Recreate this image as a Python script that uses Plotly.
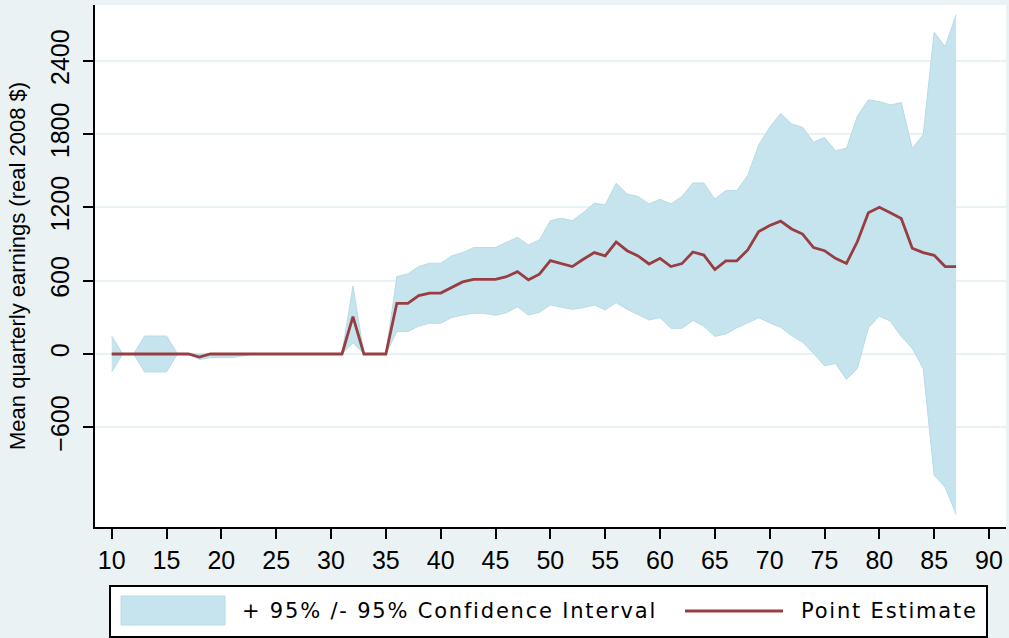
import plotly.graph_objects as go

# ---------------- data ----------------
ages = list(range(10, 88))

point_estimate = [
    0, 0, 0, 0, 0, 0, 0, 0, -25, 0,                         # 10-19
    0, 0, 0, 0, 0, 0, 0, 0, 0, 0,                           # 20-29
    0, 0, 306, 0, 0, 0, 415, 415, 478, 499,                 # 30-39
    499, 547, 590, 611, 611, 611, 633, 674, 607, 653,       # 40-49
    765, 743, 716, 776, 830, 803, 917, 846, 803, 737,       # 50-59
    783, 716, 740, 835, 810, 691, 763, 763, 852, 1002,      # 60-69
    1052, 1088, 1024, 982, 871, 846, 783, 741, 921, 1157,   # 70-79
    1202, 1157, 1110, 866, 830, 808, 716, 716,              # 80-87
]

ci_upper = [
    147, 0, 0, 147, 147, 147, 0, 0, 0, 0,
    0, 0, 0, 0, 0, 0, 0, 0, 0, 0,
    0, 0, 557, 0, 0, 0, 633, 656, 716, 743,
    743, 803, 830, 871, 871, 871, 915, 955, 893, 934,
    1092, 1112, 1092, 1158, 1235, 1221, 1398, 1310, 1289, 1229,
    1267, 1229, 1290, 1400, 1400, 1268, 1338, 1338, 1462, 1712,
    1856, 1970, 1884, 1856, 1734, 1773, 1665, 1684, 1948, 2081,
    2067, 2040, 2059, 1684, 1795, 2636, 2517, 2780,
]

ci_lower = [
    -147, 0, 0, -147, -147, -147, 0, 0, -45, -30,
    -30, -30, -15, 0, 0, 0, 0, 0, 0, 0,
    0, 0, 92, 0, 0, 0, 183, 183, 229, 252,
    252, 298, 319, 333, 333, 317, 338, 387, 319, 341,
    401, 382, 366, 379, 401, 361, 421, 366, 319, 278,
    298, 210, 210, 275, 228, 144, 164, 214, 255, 297,
    255, 219, 150, 97, 6, -97, -78, -208, -119, 214,
    311, 269, 144, 47, -119, -993, -1091, -1313,
]

x_ticks = list(range(10, 95, 5))
y_ticks = [-600, 0, 600, 1200, 1800, 2400]
y_title = "Mean quarterly earnings (real 2008 $)"
legend_labels = ["+ 95% /- 95% Confidence Interval", "Point Estimate"]

# ---------------- style ----------------
BG = "#EAF2F3"
CI_FILL = "#C6E4EE"
CI_EDGE = "#B8DBE7"
PE_COLOR = "#983E43"
TICK_FONT = dict(family="Liberation Sans, Arial, sans-serif", size=25, color="black")

W, H = 1009, 638
L, R, T, B = 95, 3, 5, 111
PW, PH = W - L - R, H - T - B


def px(x):
    return (x - L) / PW


def py(y):
    return (H - B - y) / PH


fig = go.Figure()
fig.add_trace(go.Scatter(x=ages, y=ci_lower, mode="lines",
                         line=dict(color=CI_EDGE, width=1),
                         showlegend=False, hoverinfo="skip"))
fig.add_trace(go.Scatter(x=ages, y=ci_upper, mode="lines", fill="tonexty",
                         fillcolor=CI_FILL, line=dict(color=CI_EDGE, width=1),
                         name=legend_labels[0], showlegend=False))
fig.add_trace(go.Scatter(x=ages, y=point_estimate, mode="lines",
                         line=dict(color=PE_COLOR, width=2.8),
                         name=legend_labels[1], showlegend=False))

fig.update_layout(
    width=W, height=H,
    margin=dict(l=L, r=R, t=T, b=B),
    paper_bgcolor=BG, plot_bgcolor="white",
    showlegend=False,
)
fig.update_xaxes(
    range=[8.477, 91.55], tickmode="array", tickvals=x_ticks,
    ticks="outside", ticklen=10, tickwidth=2, tickcolor="black",
    showline=True, linecolor="black", linewidth=2,
    showgrid=False, zeroline=False, tickfont=TICK_FONT,
)
fig.update_yaxes(
    range=[-1417, 2858], tickmode="array", tickvals=y_ticks,
    tickangle=-90, ticks="outside", ticklen=10, tickwidth=2, tickcolor="black",
    showline=True, linecolor="black", linewidth=2,
    showgrid=True, gridcolor=BG, gridwidth=2, zeroline=False,
    tickfont=TICK_FONT, ticklabelstandoff=4,
)

# custom legend (Stata style)
shapes = [
    dict(type="rect", xref="paper", yref="paper",
         x0=px(110), x1=px(987), y0=py(586), y1=py(637),
         fillcolor="white", line=dict(color="black", width=2)),
    dict(type="rect", xref="paper", yref="paper",
         x0=px(121), x1=px(225), y0=py(596), y1=py(625),
         fillcolor=CI_FILL, line=dict(color=CI_EDGE, width=1)),
    dict(type="line", xref="paper", yref="paper",
         x0=px(685), x1=px(783), y0=py(611), y1=py(611),
         line=dict(color=PE_COLOR, width=2.8)),
]
LEG_FONT = dict(family="DejaVu Sans, sans-serif", size=21, color="black")
annotations = [
    dict(text='<span style="letter-spacing:1.8px">%s</span>' % legend_labels[0],
         xref="paper", yref="paper", x=px(240), y=py(611),
         xanchor="left", yanchor="middle", showarrow=False, font=LEG_FONT),
    dict(text='<span style="letter-spacing:1.8px">%s</span>' % legend_labels[1],
         xref="paper", yref="paper", x=px(799), y=py(611),
         xanchor="left", yanchor="middle", showarrow=False, font=LEG_FONT),
    dict(text=y_title, xref="paper", yref="paper", x=px(17), y=0.5,
         xanchor="center", yanchor="middle", textangle=-90, showarrow=False,
         font=dict(family="Liberation Sans, Arial, sans-serif", size=22, color="black")),
]
fig.update_layout(shapes=shapes, annotations=annotations)

fig.write_html("out.html",
               config={"displayModeBar": False},
               post_script="document.body.style.margin='0';document.body.style.overflow='hidden';")
